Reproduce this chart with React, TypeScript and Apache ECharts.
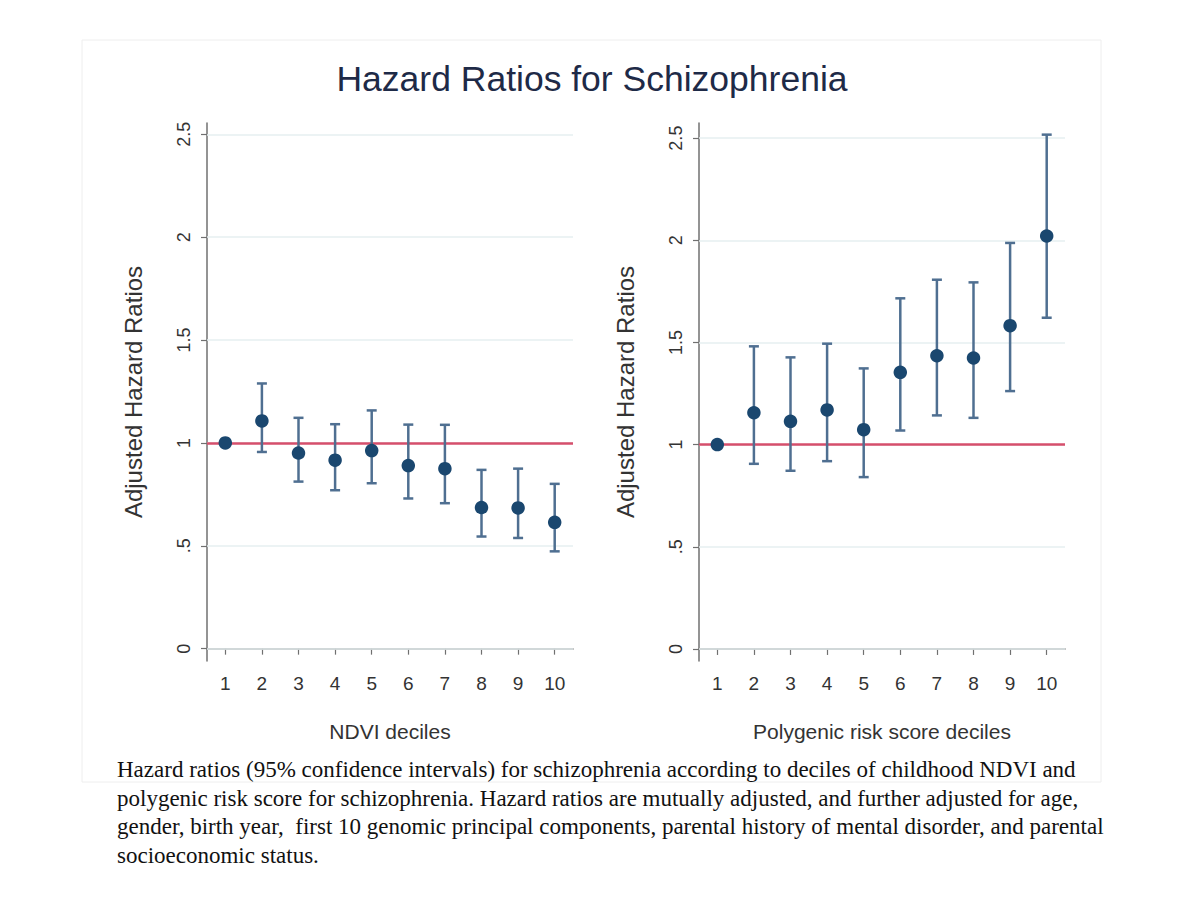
import React, { useEffect, useRef } from "react";
import * as echarts from "echarts";

const categories = ["1", "2", "3", "4", "5", "6", "7", "8", "9", "10"];
const ndviHR = [1.0, 1.107, 0.951, 0.916, 0.963, 0.89, 0.875, 0.686, 0.684, 0.614];
const ndviLower = [1.0, 0.956, 0.812, 0.77, 0.804, 0.73, 0.707, 0.545, 0.538, 0.473];
const ndviUpper = [1.0, 1.289, 1.122, 1.091, 1.158, 1.089, 1.088, 0.869, 0.875, 0.801];
const prsHR = [1.0, 1.156, 1.114, 1.17, 1.073, 1.354, 1.435, 1.424, 1.582, 2.021];
const prsLower = [1.0, 0.906, 0.872, 0.919, 0.841, 1.069, 1.143, 1.131, 1.262, 1.621];
const prsUpper = [1.0, 1.481, 1.427, 1.494, 1.373, 1.716, 1.807, 1.794, 1.987, 2.517];
const yTicks = [0, 0.5, 1, 1.5, 2, 2.5];
const referenceHR = 1;

const titleText = "Hazard Ratios for Schizophrenia";
const xNames = ["NDVI deciles", "Polygenic risk score deciles"];
const yName = "Adjusted Hazard Ratios";
const captionLines = [
  "Hazard ratios (95% confidence intervals) for schizophrenia according to deciles of childhood NDVI and",
  "polygenic risk score for schizophrenia. Hazard ratios are mutually adjusted, and further adjusted for age,",
  "gender, birth year,  first 10 genomic principal components, parental history of mental disorder, and parental",
  "socioeconomic status.",
];

const POINT_COLOR = "#1a476f";
const BAR_COLOR = "#4f6f91";
const REF_COLOR = "#d64f6c";
const GRID_COLOR = "#e6eff1";
const AXIS_COLOR = "#707070";
const LABEL_COLOR = "#333333";
const SANS = "'Liberation Sans', Arial, sans-serif";

function fmtY(v: number): string {
  if (v === 0) return "0";
  if (v < 1) return String(v).replace(/^0/, "");
  return String(v);
}

export default function App() {
  const ref = useRef<HTMLDivElement>(null);

  useEffect(() => {
    if (!ref.current) return;
    const chart = echarts.init(ref.current, null, { renderer: "svg" });

    const panels = [
      { hr: ndviHR, lo: ndviLower, hi: ndviUpper, min: -0.06, max: 2.555, left: 207 },
      { hr: prsHR, lo: prsLower, hi: prsUpper, min: -0.059, max: 2.574, left: 699 },
    ];

    const grids = panels.map((p) => ({
      left: p.left,
      top: 123,
      width: 366,
      height: 538,
    }));

    const xAxes = panels.map((p, i) => ({
      type: "category",
      gridIndex: i,
      data: categories,
      boundaryGap: true,
      name: xNames[i],
      nameLocation: "middle",
      nameGap: 60,
      nameTextStyle: { fontFamily: SANS, fontSize: 21, color: LABEL_COLOR },
      axisLine: { show: true, lineStyle: { color: AXIS_COLOR, width: 1.5 } },
      axisTick: { show: true, alignWithLabel: true, length: 6, lineStyle: { color: AXIS_COLOR, width: 1.2 } },
      axisLabel: { fontFamily: SANS, fontSize: 19, color: LABEL_COLOR, margin: 13, interval: 0 },
      splitLine: { show: false },
    }));

    const yAxes = panels.map((p, i) => ({
      type: "value",
      gridIndex: i,
      min: p.min,
      max: p.max,
      name: yName,
      nameLocation: "middle",
      nameGap: 62,
      nameTextStyle: { fontFamily: SANS, fontSize: 24, color: LABEL_COLOR },
      axisLine: { show: true, lineStyle: { color: AXIS_COLOR, width: 1.5 } },
      axisTick: { show: true, length: 6, customValues: yTicks, lineStyle: { color: AXIS_COLOR, width: 1.2 } },
      axisLabel: {
        rotate: 90,
        customValues: yTicks,
        fontFamily: SANS,
        fontSize: 18,
        color: LABEL_COLOR,
        margin: 14,
        formatter: (v: number) => fmtY(v),
      },
      splitLine: { show: false },
    }));

    const series: any[] = [];
    panels.forEach((p, i) => {
      series.push({
        type: "line",
        xAxisIndex: i,
        yAxisIndex: i,
        data: [],
        silent: true,
        z: 1,
        markLine: {
          silent: true,
          symbol: "none",
          z: 1,
          label: { show: false },
          lineStyle: { color: GRID_COLOR, width: 1.5, type: "solid" },
          data: yTicks.map((v) => ({ yAxis: v })),
        },
      });
      series.push({
        type: "line",
        xAxisIndex: i,
        yAxisIndex: i,
        data: [],
        silent: true,
        z: 2,
        markLine: {
          silent: true,
          symbol: "none",
          z: 2,
          label: { show: false },
          lineStyle: { color: REF_COLOR, width: 2.6, type: "solid" },
          data: [{ yAxis: referenceHR }],
        },
      });
      series.push({
        type: "custom",
        xAxisIndex: i,
        yAxisIndex: i,
        z: 3,
        silent: true,
        encode: { x: 0, y: [1, 2] },
        data: categories.map((c, k) => [k, p.lo[k], p.hi[k]]),
        renderItem: (params: any, api: any) => {
          const x = api.value(0);
          const lo = api.value(1);
          const hi = api.value(2);
          if (lo === hi) return null;
          const a = api.coord([x, lo]);
          const b = api.coord([x, hi]);
          const style = { stroke: BAR_COLOR, lineWidth: 2.5 };
          const cap = 5;
          return {
            type: "group",
            children: [
              { type: "line", shape: { x1: a[0], y1: a[1], x2: b[0], y2: b[1] }, style },
              { type: "line", shape: { x1: a[0] - cap, y1: a[1], x2: a[0] + cap, y2: a[1] }, style },
              { type: "line", shape: { x1: b[0] - cap, y1: b[1], x2: b[0] + cap, y2: b[1] }, style },
            ],
          };
        },
      });
      series.push({
        type: "scatter",
        xAxisIndex: i,
        yAxisIndex: i,
        z: 4,
        symbol: "circle",
        symbolSize: 13.5,
        itemStyle: { color: POINT_COLOR, opacity: 1 },
        data: categories.map((c, k) => [k, p.hr[k]]),
      });
    });

    chart.setOption({
      animation: false,
      backgroundColor: "#ffffff",
      grid: grids,
      xAxis: xAxes,
      yAxis: yAxes,
      series,
      graphic: [
        {
          type: "rect",
          silent: true,
          shape: { x: 82, y: 40, width: 1019, height: 742 },
          style: { fill: "none", stroke: "#eeeeee", lineWidth: 1 },
          z: -1,
        },
        {
          type: "text",
          x: 592,
          y: 79,
          style: {
            text: titleText,
            fontFamily: SANS,
            fontSize: 35.5,
            fill: "#1e2a47",
            textAlign: "center",
            textVerticalAlign: "middle",
          },
        },
        {
          type: "text",
          x: 117,
          y: 755,
          style: {
            text: captionLines.join("\n"),
            fontFamily: "'Liberation Serif', 'Times New Roman', serif",
            fontSize: 23,
            lineHeight: 28.7,
            fill: "#111111",
            textAlign: "left",
            textVerticalAlign: "top",
          },
        },
      ],
    });

    return () => chart.dispose();
  }, []);

  return (
    <div
      ref={ref}
      style={{ position: "absolute", left: 0, top: 0, width: 1200, height: 900 }}
    />
  );
}
